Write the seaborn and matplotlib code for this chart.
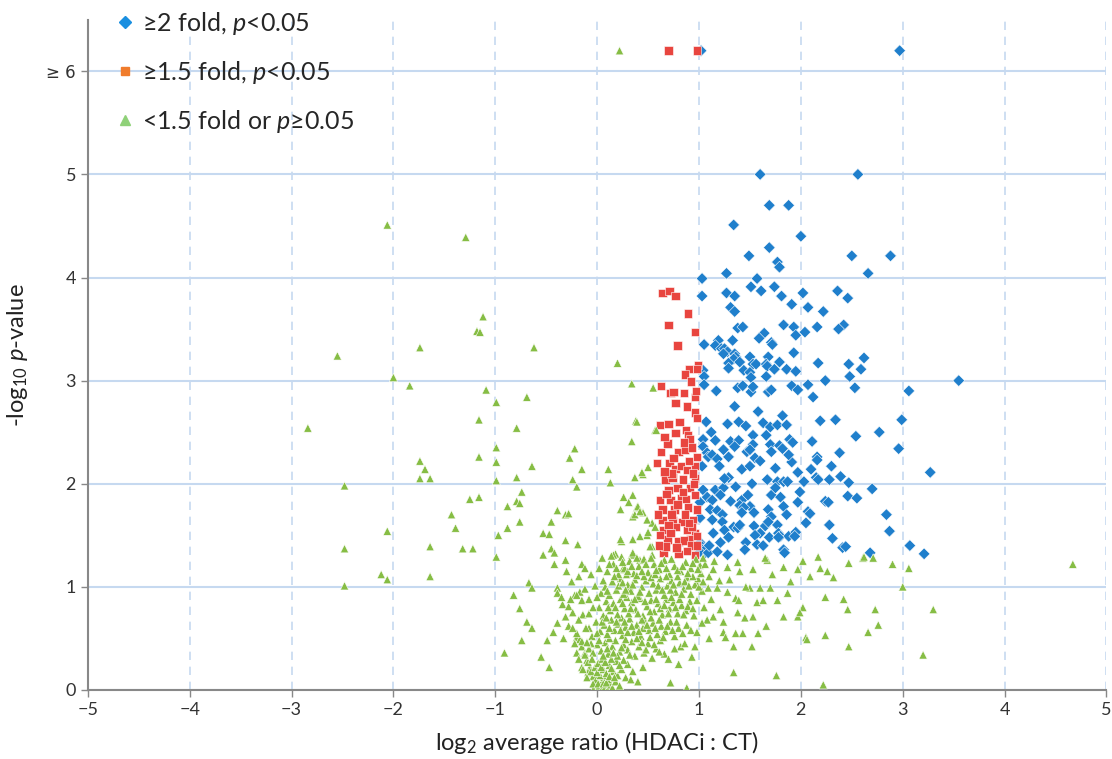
import pandas as pd
import seaborn as sns
import matplotlib.pyplot as plt
from matplotlib.lines import Line2D

# (log2 ratio, -log10 p); capped values drawn at 6.2
blue_pts = [
    (1.02, 6.2), (2.97, 6.2), (1.60, 5.0), (2.56, 5.0), (1.69, 4.70), (1.88, 4.70), (1.34, 4.51), (2.00, 4.40),
    (1.69, 4.29), (1.49, 4.21), (2.50, 4.21), (2.88, 4.21), (1.77, 4.15), (1.79, 4.10), (2.66, 4.04), (1.27, 4.04),
    (1.03, 3.99), (1.57, 3.99), (1.51, 3.91), (1.74, 3.91), (1.61, 3.87), (1.27, 3.85), (1.35, 3.82), (1.03, 3.82),
    (1.81, 3.82), (2.02, 3.85), (2.36, 3.87), (2.46, 3.80), (1.91, 3.74), (2.07, 3.71), (2.22, 3.67), (1.31, 3.71),
    (1.35, 3.67), (1.38, 3.51), (1.43, 3.52), (1.83, 3.54), (1.93, 3.52), (2.16, 3.52), (2.42, 3.54), (2.37, 3.50),
    (1.64, 3.46), (1.59, 3.41), (1.95, 3.44), (2.04, 3.47), (1.71, 3.37), (1.72, 3.35), (1.05, 3.35), (1.19, 3.39),
    (1.33, 3.39), (1.16, 3.34), (1.22, 3.31), (1.25, 3.31), (1.28, 3.28), (1.24, 3.26), (1.35, 3.26), (1.36, 3.23),
    (1.34, 3.21), (1.50, 3.23), (1.68, 3.23), (1.93, 3.27), (1.40, 3.18), (1.29, 3.17), (1.29, 3.12), (1.53, 3.16),
    (1.56, 3.16), (1.66, 3.16), (1.67, 3.14), (1.79, 3.18), (1.74, 3.11), (1.86, 3.11), (1.95, 3.09), (2.17, 3.17),
    (2.47, 3.16), (2.62, 3.22), (2.59, 3.11), (2.48, 3.04), (1.44, 3.10), (1.50, 3.08), (1.51, 3.03), (1.66, 3.04),
    (1.04, 3.10), (1.05, 3.04), (2.24, 3.00), (1.05, 2.96), (1.17, 2.90), (1.38, 2.93), (1.43, 2.95), (1.51, 2.89),
    (1.53, 2.94), (1.68, 2.89), (1.71, 2.91), (1.91, 2.95), (1.97, 2.91), (2.07, 2.96), (2.53, 2.93), (3.06, 2.90),
    (3.55, 3.00), (2.12, 2.84), (1.07, 2.60), (1.28, 2.58), (1.39, 2.60), (1.46, 2.56), (1.63, 2.59), (1.70, 2.55),
    (1.77, 2.57), (1.86, 2.57), (2.19, 2.61), (2.34, 2.62), (2.99, 2.62), (1.04, 2.43), (1.16, 2.42), (1.31, 2.41),
    (1.39, 2.42), (1.53, 2.47), (1.53, 2.38), (1.66, 2.47), (1.70, 2.38), (1.79, 2.37), (1.82, 2.34), (1.89, 2.43),
    (1.92, 2.40), (2.11, 2.41), (2.54, 2.46), (2.77, 2.50), (2.96, 2.34), (1.04, 2.36), (1.08, 2.30), (1.09, 2.26),
    (1.13, 2.28), (1.18, 2.24), (1.24, 2.33), (1.29, 2.26), (1.35, 2.36), (1.47, 2.31), (1.50, 2.33), (1.55, 2.25),
    (1.71, 2.31), (1.91, 2.21), (2.38, 2.30), (2.16, 2.26), (2.16, 2.23), (2.30, 2.17), (1.03, 2.17), (1.20, 2.17),
    (1.29, 2.06), (1.42, 2.14), (1.50, 2.17), (1.75, 2.15), (1.97, 2.11), (2.10, 2.14), (1.67, 2.04), (1.77, 2.02),
    (1.83, 2.02), (1.87, 2.02), (2.03, 2.02), (2.15, 2.06), (2.17, 2.04), (2.28, 2.04), (2.39, 2.07), (2.47, 2.01),
    (3.27, 2.11), (1.04, 1.94), (1.08, 1.87), (1.13, 1.84), (1.16, 1.94), (1.24, 1.96), (1.21, 1.89), (1.36, 1.97),
    (1.42, 1.84), (1.48, 1.89), (1.50, 1.78), (1.31, 1.83), (1.71, 1.89), (1.75, 1.96), (1.80, 1.87), (1.99, 1.92),
    (1.97, 1.82), (2.24, 1.83), (2.27, 1.82), (2.46, 1.88), (2.55, 1.86), (2.70, 1.95), (1.01, 1.82), (1.11, 1.75),
    (1.18, 1.74), (1.23, 1.70), (1.40, 1.79), (1.44, 1.77), (1.42, 1.72), (1.54, 1.72), (1.68, 1.75), (1.71, 1.68),
    (1.83, 1.78), (1.86, 1.70), (2.07, 1.73), (2.09, 1.71), (2.84, 1.70), (1.01, 1.67), (1.13, 1.65), (1.23, 1.63),
    (1.25, 1.55), (1.34, 1.58), (1.38, 1.57), (1.40, 1.60), (1.54, 1.59), (1.60, 1.52), (1.65, 1.59), (1.68, 1.63),
    (1.77, 1.60), (1.78, 1.52), (1.80, 1.49), (1.88, 1.49), (1.95, 1.53), (2.28, 1.60), (2.31, 1.47), (2.87, 1.54),
    (1.01, 1.43), (1.03, 1.39), (1.04, 1.36), (1.06, 1.33), (1.01, 1.34), (1.08, 1.38), (1.09, 1.33), (1.18, 1.34),
    (1.21, 1.43), (1.29, 1.48), (1.28, 1.31), (1.46, 1.43), (1.55, 1.50), (1.57, 1.41), (1.63, 1.40), (1.69, 1.48),
    (1.78, 1.48), (1.83, 1.36), (1.84, 1.33), (1.94, 1.49), (2.41, 1.38), (2.44, 1.39), (2.68, 1.33), (3.07, 1.40),
    (3.21, 1.32), (1.12, 2.50), (1.58, 2.70), (1.25, 2.05), (1.60, 2.22), (1.88, 2.28), (2.05, 1.62), (1.14, 1.52),
    (1.52, 2.00), (1.35, 2.75), (1.82, 2.66), (1.10, 1.40), (1.45, 1.36),
]

red_pts = [
    (0.70, 6.2), (0.98, 6.2), (0.64, 3.85), (0.71, 3.87), (0.77, 3.82), (0.89, 3.65), (0.70, 3.54), (0.96, 3.47),
    (0.79, 3.34), (0.99, 3.15), (0.98, 3.11), (0.90, 3.11), (0.86, 3.06), (0.92, 2.99), (0.63, 2.95), (0.72, 2.88),
    (0.75, 2.89), (0.85, 2.88), (0.96, 2.84), (0.77, 2.78), (0.88, 2.75), (0.96, 2.69), (0.98, 2.64), (0.62, 2.57),
    (0.70, 2.58), (0.87, 2.52), (0.89, 2.47), (0.91, 2.43), (0.77, 2.49), (0.63, 2.31), (0.69, 2.39), (0.80, 2.31),
    (0.86, 2.33), (0.98, 2.26), (0.59, 2.20), (0.71, 2.20), (0.77, 2.14), (0.82, 2.17), (0.88, 2.13), (0.96, 2.17),
    (0.67, 2.04), (0.74, 2.06), (0.84, 2.04), (0.96, 2.05), (0.70, 1.94), (0.79, 1.96), (0.91, 1.96), (0.62, 1.84),
    (0.72, 1.84), (0.82, 1.86), (0.96, 1.89), (0.64, 1.75), (0.76, 1.75), (0.89, 1.77), (0.98, 1.75), (0.64, 1.65),
    (0.74, 1.65), (0.83, 1.63), (0.94, 1.65), (0.65, 1.55), (0.77, 1.58), (0.88, 1.55), (0.96, 1.52), (0.69, 1.46),
    (0.80, 1.44), (0.91, 1.46), (0.98, 1.49), (0.65, 1.33), (0.80, 1.32), (0.96, 1.31), (0.60, 1.70), (0.68, 1.90),
    (0.73, 2.10), (0.85, 1.45), (0.92, 1.40), (0.78, 1.38), (0.70, 1.60), (0.87, 1.85), (0.95, 2.00), (0.62, 1.50),
    (0.75, 2.25), (0.93, 2.35), (0.66, 2.45), (0.81, 2.60), (0.97, 2.90), (0.86, 1.70), (0.93, 1.58), (0.73, 1.70),
    (0.84, 1.92), (0.90, 2.22), (0.67, 1.39), (0.88, 1.35), (0.72, 1.52), (0.90, 1.62), (0.79, 1.80), (0.66, 2.12),
    (0.94, 2.10), (0.85, 2.40), (0.61, 1.40), (0.98, 1.40),
]

green_pts = [
    (0.22, 6.2), (-2.06, 4.51), (-1.29, 4.39), (-1.12, 3.62), (-1.18, 3.48), (-1.15, 3.47), (-1.74, 3.32), (-0.62, 3.32),
    (-2.55, 3.24), (-2.00, 3.03), (-1.84, 2.95), (-1.09, 2.91), (-0.99, 2.79), (-0.69, 2.84), (-1.16, 2.62), (-0.79, 2.54),
    (-2.84, 2.54), (-0.99, 2.35), (-0.99, 2.21), (-0.99, 2.03), (-1.16, 2.26), (-1.74, 2.22), (-1.69, 2.14), (-1.74, 2.05),
    (-1.64, 2.05), (-0.64, 2.17), (-0.79, 2.06), (-0.22, 2.34), (-0.27, 2.25), (-0.15, 2.14), (-0.24, 2.04), (-0.20, 1.97),
    (-2.48, 1.98), (-1.25, 1.85), (-1.16, 1.87), (-0.74, 1.92), (-0.88, 1.78), (-0.79, 1.83), (-0.76, 1.81), (-1.43, 1.70),
    (-1.39, 1.57), (-2.06, 1.54), (-0.88, 1.57), (-0.76, 1.63), (-0.39, 1.74), (-0.45, 1.63), (-0.31, 1.70), (-0.28, 1.71),
    (-0.97, 1.50), (-0.53, 1.52), (-0.47, 1.51), (-0.31, 1.45), (-0.19, 1.41), (-2.48, 1.37), (-1.64, 1.39), (-1.32, 1.37),
    (-1.22, 1.37), (-0.53, 1.31), (-0.45, 1.37), (-0.42, 1.33), (-0.99, 1.29), (-0.31, 1.26), (-0.42, 1.22), (-0.15, 1.22),
    (-2.12, 1.12), (-2.06, 1.07), (-1.64, 1.10), (-2.48, 1.01), (-0.67, 1.04), (-0.64, 0.99), (-0.39, 0.99), (-0.39, 0.94),
    (-0.82, 0.92), (-0.22, 0.92), (-0.17, 0.95), (-0.76, 0.79), (-0.69, 0.66), (-0.64, 0.60), (-0.74, 0.48), (-0.91, 0.36),
    (-0.55, 0.32), (-0.47, 0.22), (-0.34, 0.83), (-0.28, 0.81), (-0.24, 0.75), (-0.20, 0.92), (-0.15, 0.87), (-0.31, 0.71),
    (-0.39, 0.65), (-0.43, 0.56), (-0.33, 0.50), (-0.49, 0.48), (-0.14, 0.73), (-0.08, 0.60), (-0.20, 0.51), (-0.17, 0.49),
    (-0.15, 0.42), (-0.12, 0.36), (-0.10, 0.29), (-0.20, 0.36), (-0.15, 0.22), (-0.07, 0.22), (-0.09, 0.17), (-0.04, 0.13),
    (-0.02, 0.07), (0.03, 0.03), (0.20, 3.17), (0.34, 2.97), (0.55, 2.93), (0.57, 2.52), (0.38, 2.61), (0.58, 2.52),
    (0.34, 2.41), (0.11, 2.14), (0.37, 2.06), (0.45, 2.09), (0.50, 2.16), (0.13, 2.01), (0.26, 1.87), (0.35, 1.89),
    (0.23, 1.75), (0.39, 1.77), (0.45, 1.72), (0.54, 1.62), (0.57, 1.58), (0.35, 1.68), (0.24, 1.44), (0.35, 1.46),
    (0.49, 1.50), (0.54, 1.39), (0.18, 1.32), (0.34, 1.31), (0.54, 1.31), (0.42, 1.26), (0.39, 2.60), (0.44, 2.11),
    (0.31, 1.82), (0.40, 1.78), (0.37, 1.70), (0.42, 1.73), (0.49, 1.65), (0.23, 1.46), (0.16, 1.31), (0.25, 1.17),
    (0.29, 1.12), (0.35, 1.33), (0.42, 1.49), (0.50, 1.53), (0.52, 1.39), (0.32, 1.00),
    (1.01, 1.21), (1.14, 1.17), (1.28, 1.19), (1.38, 1.24), (1.40, 1.15), (1.53, 1.17), (1.67, 1.26), (1.83, 1.19),
    (1.97, 1.17), (2.09, 1.10), (2.17, 1.29), (2.19, 1.18), (2.26, 1.15), (2.32, 1.09), (2.47, 1.23), (2.61, 1.28),
    (2.71, 1.28), (2.90, 1.22), (3.06, 1.18), (3.00, 1.00), (3.30, 0.78), (3.20, 0.34), (0.98, 1.04), (1.09, 0.99),
    (1.18, 0.99), (1.28, 0.95), (1.36, 0.89), (1.39, 0.87), (1.50, 0.99), (1.60, 0.99), (1.70, 0.99), (1.77, 0.87),
    (1.87, 0.94), (1.57, 0.85), (1.63, 0.87), (2.02, 0.80), (2.24, 0.90), (2.42, 0.88), (2.46, 0.78), (2.73, 0.78),
    (2.76, 0.63), (2.66, 0.56), (1.97, 0.71), (1.99, 0.75), (1.83, 0.71), (1.53, 0.71), (1.38, 0.75), (1.21, 0.78),
    (1.14, 0.71), (1.08, 0.68), (1.03, 0.65), (1.24, 0.56), (1.26, 0.51), (1.36, 0.55), (1.43, 0.55), (1.58, 0.55),
    (1.34, 0.42), (1.52, 0.42), (2.05, 0.51), (2.06, 0.49), (2.24, 0.53), (2.47, 0.42), (1.34, 0.17), (1.76, 0.14),
    (2.22, 0.05), (0.93, 0.32), (0.96, 0.42), (0.82, 0.42), (0.72, 0.07), (0.88, 0.02), (1.65, 1.28), (2.62, 1.29),
    (4.67, 1.22),
    (-0.03, 0.02), (0.00, 0.00), (0.02, 0.04), (0.05, 0.01), (0.08, 0.03), (0.10, 0.00), (0.13, 0.05), (0.04, 0.08),
    (-0.01, 0.10), (0.07, 0.12), (0.15, 0.02), (0.18, 0.08), (0.22, 0.04), (0.03, 0.14), (-0.04, 0.06), (0.11, 0.10),
    (-0.06, 0.18), (-0.02, 0.22), (0.01, 0.26), (0.06, 0.20), (0.09, 0.16), (0.12, 0.24), (0.16, 0.18), (0.20, 0.14),
    (0.24, 0.20), (0.28, 0.12), (0.30, 0.25), (0.19, 0.28), (0.14, 0.30), (0.05, 0.30), (-0.09, 0.27), (0.35, 0.18),
    (0.26, 0.29), (0.33, 0.10), (0.40, 0.08), (0.45, 0.22), (-0.12, 0.34), (-0.08, 0.40), (-0.04, 0.36), (0.00, 0.44),
    (0.04, 0.38), (0.08, 0.46), (0.11, 0.35), (0.15, 0.42), (0.18, 0.48), (0.22, 0.37), (0.26, 0.44), (0.30, 0.39),
    (0.34, 0.47), (0.37, 0.33), (0.41, 0.42), (0.46, 0.36), (0.50, 0.45), (0.54, 0.31), (0.58, 0.40), (0.62, 0.48),
    (0.20, 0.33), (0.12, 0.50), (-0.15, 0.47), (0.66, 0.35), (0.70, 0.30), (-0.20, 0.55), (-0.11, 0.60), (-0.05, 0.52),
    (-0.01, 0.66), (0.03, 0.57), (0.07, 0.63), (0.10, 0.54), (0.14, 0.68), (0.17, 0.58), (0.21, 0.64), (0.25, 0.53),
    (0.28, 0.61), (0.32, 0.69), (0.36, 0.56), (0.39, 0.63), (0.43, 0.52), (0.47, 0.67), (0.51, 0.58), (0.55, 0.65),
    (0.59, 0.54), (0.63, 0.62), (0.67, 0.57), (0.72, 0.66), (0.76, 0.52), (0.80, 0.60), (0.24, 0.70), (0.45, 0.60),
    (0.00, 0.55), (-0.08, 0.74), (0.02, 0.80), (0.06, 0.72), (0.09, 0.86), (0.13, 0.77), (0.16, 0.84), (0.20, 0.73),
    (0.23, 0.88), (0.27, 0.79), (0.31, 0.74), (0.34, 0.85), (0.38, 0.78), (0.42, 0.89), (0.45, 0.72), (0.49, 0.81),
    (0.53, 0.87), (0.56, 0.76), (0.60, 0.84), (0.64, 0.73), (0.68, 0.88), (0.71, 0.79), (0.75, 0.85), (0.79, 0.74),
    (0.83, 0.82), (0.87, 0.77), (0.91, 0.86), (0.95, 0.72), (0.29, 0.90), (0.04, 0.94), (0.08, 1.00), (0.12, 0.92),
    (0.15, 1.05), (0.19, 0.97), (0.23, 1.08), (0.26, 0.93), (0.30, 1.02), (0.33, 0.96), (0.37, 1.07), (0.40, 0.91),
    (0.44, 1.00), (0.48, 1.06), (0.51, 0.94), (0.55, 1.03), (0.58, 0.97), (0.62, 1.08), (0.66, 0.92), (0.69, 1.01),
    (0.73, 1.06), (0.77, 0.95), (0.81, 1.04), (0.85, 0.98), (0.88, 1.09), (0.92, 0.93), (0.96, 1.02), (0.99, 1.08),
    (1.03, 0.96), (-0.02, 1.01), (0.10, 1.15), (0.16, 1.22), (0.21, 1.12), (0.27, 1.18), (0.32, 1.25), (0.36, 1.13),
    (0.41, 1.20), (0.46, 1.27), (0.50, 1.14), (0.56, 1.22), (0.61, 1.17), (0.66, 1.26), (0.71, 1.12), (0.76, 1.20),
    (0.82, 1.15), (0.87, 1.24), (0.92, 1.18), (0.97, 1.27), (1.02, 1.13), (1.06, 1.22), (0.05, 1.28), (0.14, 1.30),
    (0.24, 1.29), (-0.25, 1.05), (-0.30, 1.15), (-0.18, 1.10), (-0.12, 0.98), (-0.35, 0.90), (-0.28, 0.62), (-0.22, 0.45),
    (-0.18, 0.30), (-0.14, 0.20), (-0.10, 0.12),
    # extra fill for the dense core
    (0.01, 0.06), (0.06, 0.06), (0.09, 0.07), (0.12, 0.13), (0.00, 0.17), (0.04, 0.22), (0.08, 0.27), (0.14, 0.21),
    (0.17, 0.12), (0.22, 0.24), (0.10, 0.40), (0.06, 0.33), (0.02, 0.48), (-0.06, 0.45), (0.16, 0.36), (0.24, 0.41),
    (0.28, 0.49), (0.32, 0.34), (0.39, 0.50), (0.44, 0.46), (0.48, 0.39), (0.52, 0.51), (0.56, 0.44), (0.61, 0.37),
    (0.05, 0.66), (0.09, 0.70), (0.12, 0.60), (0.19, 0.66), (0.23, 0.58), (0.27, 0.66), (0.30, 0.56), (0.34, 0.62),
    (0.41, 0.57), (0.44, 0.68), (0.49, 0.63), (0.53, 0.70), (0.57, 0.60), (0.61, 0.68), (0.65, 0.51), (0.69, 0.62),
    (0.74, 0.58), (0.78, 0.66), (0.84, 0.55), (0.88, 0.63), (0.92, 0.58), (0.11, 0.80), (0.18, 0.80), (0.25, 0.84),
    (0.33, 0.79), (0.37, 0.88), (0.40, 0.74), (0.47, 0.86), (0.52, 0.76), (0.58, 0.88), (0.62, 0.79), (0.66, 0.82),
    (0.70, 0.74), (0.73, 0.90), (0.77, 0.80), (0.81, 0.88), (0.85, 0.73), (0.89, 0.81), (0.94, 0.79), (0.98, 0.87),
    (0.06, 1.06), (0.10, 0.96), (0.17, 1.10), (0.21, 1.01), (0.25, 1.04), (0.28, 0.97), (0.35, 1.02), (0.39, 1.11),
    (0.42, 0.95), (0.46, 1.10), (0.53, 1.09), (0.57, 1.12), (0.60, 1.01), (0.64, 0.97), (0.68, 1.10), (0.72, 0.97),
    (0.75, 1.02), (0.79, 1.10), (0.83, 0.93), (0.86, 1.05), (0.90, 1.01), (0.94, 1.10), (1.00, 1.00), (1.04, 1.05),
    (0.12, 1.22), (0.19, 1.18), (0.25, 1.24), (0.30, 1.15), (0.34, 1.20), (0.39, 1.28), (0.44, 1.15), (0.48, 1.22),
    (0.53, 1.28), (0.58, 1.16), (0.63, 1.23), (0.68, 1.18), (0.73, 1.27), (0.79, 1.16), (0.84, 1.20), (0.89, 1.13),
    (0.94, 1.23), (0.99, 1.17), (1.04, 1.28), (1.10, 1.10), (1.15, 1.25), (-0.05, 0.30), (-0.10, 0.46), (-0.24, 0.60),
    (-0.18, 0.68), (-0.04, 0.80), (-0.08, 0.88), (0.00, 0.90), (-0.26, 0.88), (-0.12, 1.18), (-0.06, 1.12), (0.02, 1.18),
    (1.12, 0.88), (1.20, 1.06), (1.30, 1.07), (1.46, 1.00), (1.24, 0.66), (1.05, 0.80), (1.45, 0.70), (1.66, 0.62),
    (1.72, 1.12), (1.90, 1.05), (2.02, 1.25), (1.10, 0.50), (0.98, 0.56), (0.86, 0.45), (0.76, 0.40), (0.80, 0.25),
]

x_ticks = [-5, -4, -3, -2, -1, 0, 1, 2, 3, 4, 5]
y_ticks = [0, 1, 2, 3, 4, 5, 6]
y_tick_labels = ['0', '1', '2', '3', '4', '5', '≥ 6']

groups = ['blue', 'red', 'green']
colors = {'blue': '#1f7fcc', 'red': '#e8453f', 'green': '#86bd44'}
markers = {'blue': 'D', 'red': 's', 'green': '^'}
legend_labels = ['≥2 fold, $p$<0.05', '≥1.5 fold, $p$<0.05', '<1.5 fold or $p$≥0.05']

frames = []
for name, pts in zip(groups, [blue_pts, red_pts, green_pts]):
    d = pd.DataFrame(pts, columns=['ratio', 'pval'])
    d['group'] = name
    frames.append(d)
df = pd.concat(frames, ignore_index=True)

sns.set_theme(style='white')
plt.rcParams['font.family'] = ['Lato', 'DejaVu Sans']
plt.rcParams['mathtext.fontset'] = 'custom'
plt.rcParams['mathtext.rm'] = 'Lato'
plt.rcParams['mathtext.it'] = 'Lato:italic'

fig = plt.figure(figsize=(11.12, 7.59), dpi=100)
ax = fig.add_axes([0.079, 0.091, 0.916, 0.883])

sns.scatterplot(data=df, x='ratio', y='pval', hue='group', style='group',
                palette=colors, markers=markers, s=36, linewidth=0.4,
                edgecolor='white', legend=False, ax=ax, zorder=3)

ax.set_xlim(-5, 5)
ax.set_ylim(0, 6.5)
ax.set_xticks(x_ticks)
ax.set_yticks(y_ticks)
ax.set_yticklabels(y_tick_labels)
ax.tick_params(axis='both', labelsize=13, labelcolor='#333333', length=5, width=1,
               direction='out', left=True, bottom=True, color='#888888')
ax.get_yticklabels()[-1].set_family(['DejaVu Sans'])
ax.get_yticklabels()[-1].set_fontsize(12)

ax.yaxis.grid(True, color='#c6d9f0', linewidth=1.5, linestyle='-')
ax.xaxis.grid(True, color='#c6d9f0', linewidth=1.2, linestyle=(0, (5, 4)))
ax.set_axisbelow(True)
sns.despine(ax=ax)
for s in ['left', 'bottom']:
    ax.spines[s].set_color('#888888')
    ax.spines[s].set_linewidth(1.5)

ax.set_xlabel('log$_2$ average ratio (HDACi : CT)', fontsize=17, color='#222222', labelpad=8)
ax.set_ylabel('-log$_{10}$ $p$-value', fontsize=17, color='#222222', labelpad=12)

handles = [Line2D([], [], marker='D', linestyle='', color='#1a8fe0', markersize=6),
           Line2D([], [], marker='s', linestyle='', color='#f07c2c', markersize=6),
           Line2D([], [], marker='^', linestyle='', color='#8fd178', markersize=7)]
leg = ax.legend(handles, legend_labels, loc='upper left', bbox_to_anchor=(0.021, 1.03),
                frameon=False, fontsize=18, handlelength=0.5, handletextpad=0.4,
                labelspacing=0.88, borderaxespad=0)
leg.set_zorder(5)

fig.savefig('out.png', dpi=100)
